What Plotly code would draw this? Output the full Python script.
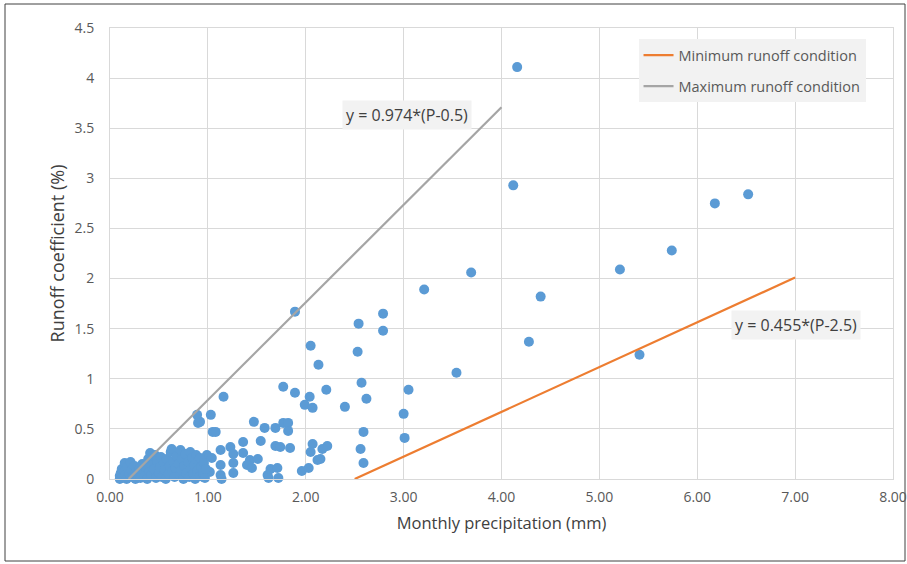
import plotly.graph_objects as go

# Observed points (monthly precipitation mm, runoff coefficient %)
obs_x = [
    4.16, 4.12, 6.52, 6.18, 5.74, 5.21, 5.41, 3.69, 3.21, 4.40, 4.28, 3.54,
    2.79, 2.54, 2.79, 2.53, 2.13, 2.57, 2.21, 3.05, 2.62, 2.40, 3.00, 2.59,
    3.01, 2.22, 2.17, 2.56, 2.15, 2.59,
    1.89, 2.05, 1.77, 1.89, 2.04, 1.99, 2.07, 1.16, 1.03, 0.92, 1.47, 1.58,
    1.69, 1.77, 1.82, 1.82, 1.05, 1.08, 1.36, 1.54, 1.69, 1.74, 1.84, 2.07,
    2.05, 2.12, 1.13, 1.23, 1.26, 1.36, 1.43, 1.51, 0.99, 1.04, 0.92, 1.13,
    1.26, 1.40, 1.45, 1.64, 1.71, 1.96, 2.03, 1.02, 1.13, 1.26, 1.61, 1.62,
    1.72, 0.95, 1.14, 0.89, 0.90,
    0.10, 0.10, 0.11, 0.12, 0.13, 0.15, 0.15, 0.16, 0.17, 0.18,
    0.20, 0.21, 0.22, 0.23, 0.25, 0.26, 0.27, 0.28, 0.30, 0.31,
    0.33, 0.34, 0.35, 0.36, 0.38, 0.39, 0.40, 0.41, 0.42, 0.43,
    0.45, 0.46, 0.47, 0.48, 0.50, 0.51, 0.52, 0.53, 0.55, 0.56,
    0.57, 0.58, 0.60, 0.61, 0.62, 0.63, 0.64, 0.65, 0.66, 0.67,
    0.68, 0.70, 0.71, 0.72, 0.73, 0.74, 0.75, 0.76, 0.77, 0.78,
    0.80, 0.81, 0.82, 0.83, 0.84, 0.85, 0.86, 0.87, 0.88, 0.89,
    0.90, 0.92, 0.92, 0.93, 0.95, 0.96, 0.97, 0.98,
]
obs_y = [
    4.11, 2.93, 2.84, 2.75, 2.28, 2.09, 1.24, 2.06, 1.89, 1.82, 1.37, 1.06,
    1.65, 1.55, 1.48, 1.27, 1.14, 0.96, 0.89, 0.89, 0.80, 0.72, 0.65, 0.47,
    0.41, 0.33, 0.30, 0.30, 0.20, 0.16,
    1.67, 1.33, 0.92, 0.86, 0.82, 0.74, 0.71, 0.82, 0.64, 0.57, 0.57, 0.51,
    0.51, 0.56, 0.56, 0.48, 0.47, 0.47, 0.37, 0.38, 0.33, 0.32, 0.31, 0.35,
    0.27, 0.19, 0.29, 0.32, 0.25, 0.26, 0.19, 0.20, 0.24, 0.21, 0.14, 0.14,
    0.16, 0.14, 0.11, 0.10, 0.11, 0.08, 0.11, 0.07, 0.04, 0.06, 0.04, 0.01,
    0.01, 0.02, 0.00, 0.64, 0.56,
    0.00, 0.03, 0.06, 0.10, 0.02, 0.16, 0.08, 0.04, 0.00, 0.12,
    0.05, 0.17, 0.09, 0.02, 0.13, 0.00, 0.07, 0.04, 0.10, 0.01,
    0.15, 0.06, 0.03, 0.12, 0.00, 0.20, 0.08, 0.26, 0.04, 0.14,
    0.10, 0.24, 0.01, 0.18, 0.06, 0.12, 0.22, 0.02, 0.16, 0.09,
    0.00, 0.20, 0.05, 0.13, 0.27, 0.30, 0.08, 0.18, 0.02, 0.11,
    0.23, 0.15, 0.04, 0.29, 0.09, 0.20, 0.00, 0.13, 0.25, 0.06,
    0.17, 0.02, 0.27, 0.10, 0.21, 0.05, 0.14, 0.00, 0.24, 0.08,
    0.18, 0.21, 0.03, 0.12, 0.06, 0.16, 0.01, 0.10,
]

# Envelope lines
min_line_x = [2.5, 7.0]
min_line_y = [0.0, 2.01]
max_line_x = [0.19, 4.0]
max_line_y = [0.0, 3.71]

x_tick_vals = [0, 1, 2, 3, 4, 5, 6, 7, 8]
x_tick_text = ["0.00", "1.00", "2.00", "3.00", "4.00", "5.00", "6.00", "7.00", "8.00"]

FONT = "Open Sans"
fig = go.Figure()
fig.add_trace(go.Scatter(
    x=obs_x, y=obs_y, mode="markers", showlegend=False,
    marker=dict(color="#5b9bd5", size=10, line=dict(width=0)),
    cliponaxis=False,
))
fig.add_trace(go.Scatter(
    x=min_line_x, y=min_line_y, mode="lines", name="Minimum runoff condition",
    line=dict(color="#ed7d31", width=2.2), legendgroup="a",
))
fig.add_trace(go.Scatter(
    x=max_line_x, y=max_line_y, mode="lines", name="Maximum runoff condition",
    line=dict(color="#a5a5a5", width=2.2), legendgroup="b",
))

fig.update_layout(
    width=907, height=564,
    margin=dict(l=110, r=14, t=28, b=85),
    paper_bgcolor="white", plot_bgcolor="white",
    font=dict(family=FONT, color="#595959", size=14),
    legend=dict(
        x=0.675, y=0.975, xanchor="left", yanchor="top",
        bgcolor="#f2f2f2", font=dict(size=14.5, color="#595959"),
        tracegroupgap=9, borderwidth=0,
    ),
    xaxis=dict(
        range=[0, 8], tickvals=x_tick_vals, ticktext=x_tick_text,
        showgrid=True, gridcolor="#d9d9d9", gridwidth=1,
        showline=True, linecolor="#d9d9d9", mirror=True, zeroline=False,
        ticks="", ticklabelstandoff=5, tickfont=dict(size=14, color="#595959"),
        automargin=False,
        title=dict(text="Monthly precipitation (mm)", font=dict(size=16.5, color="#404040"), standoff=12),
    ),
    yaxis=dict(
        range=[0, 4.5], dtick=0.5, tick0=0,
        showgrid=True, gridcolor="#d9d9d9", gridwidth=1,
        showline=True, linecolor="#d9d9d9", mirror=True, zeroline=False,
        ticks="", ticklabelstandoff=12, tickfont=dict(size=14, color="#595959"),
        title=dict(text="Runoff coefficient (%)", font=dict(size=18, color="#404040"), standoff=5),
    ),
    annotations=[
        dict(x=3.03, y=3.63, xref="x", yref="y", text="y = 0.974*(P-0.5)", showarrow=False,
             bgcolor="#f2f2f2", font=dict(size=16, color="#404040"), borderpad=3),
        dict(x=7.01, y=1.54, xref="x", yref="y", text="y = 0.455*(P-2.5)", showarrow=False,
             bgcolor="#f2f2f2", font=dict(size=16, color="#404040"), borderpad=3),
    ],
    shapes=[
        dict(type="rect", xref="paper", yref="paper",
             x0=-105 / 783, x1=(905 - 110) / 783, y0=(479 - 561) / 451, y1=(479 - 4) / 451,
             line=dict(color="#404040", width=1), fillcolor="rgba(0,0,0,0)", layer="below"),
    ],
)

fig.write_html("out.html", config={"displayModeBar": False},
               post_script="document.body.style.margin='0';")
